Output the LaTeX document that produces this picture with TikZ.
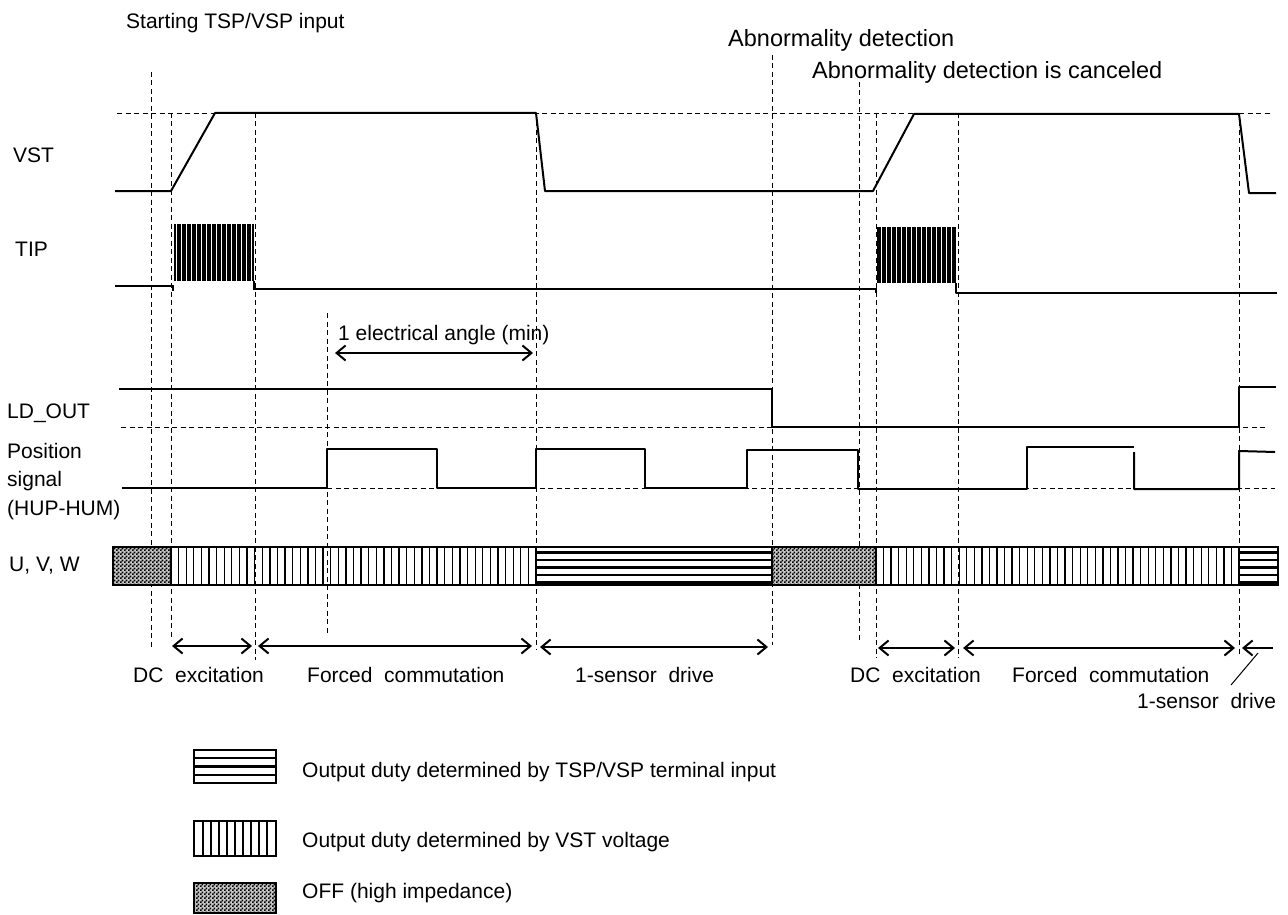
\documentclass[tikz,border=0pt]{standalone}
\usepackage{fontspec}
\setmainfont{Liberation Sans}
\usetikzlibrary{arrows.meta,patterns}
\pgfdeclarepatternformonly{checker}{\pgfpointorigin}{\pgfpoint{4pt}{4pt}}{\pgfpoint{4pt}{4pt}}{%
  \pgfpathrectangle{\pgfpointorigin}{\pgfpoint{2pt}{2pt}}%
  \pgfpathrectangle{\pgfpoint{2pt}{2pt}}{\pgfpoint{2pt}{2pt}}%
  \pgfusepath{fill}}
\begin{document}
\begin{tikzpicture}[x=1pt,y=-1pt,
  wave/.style={line width=2pt,line join=round},
  thinwave/.style={line width=1.6pt},
  gridline/.style={line width=0.9pt,dash pattern=on 5pt off 3.5pt},
  dur/.style={line width=2pt,{Straight Barb[length=9pt,width=15pt,line width=2pt]}-{Straight Barb[length=9pt,width=15pt,line width=2pt]}},
  lefttip/.style={line width=2pt,{Straight Barb[length=9pt,width=15pt,line width=2pt]}-},
  lbl/.style={font=\fontsize{21}{25}\selectfont,inner sep=0pt,anchor=base west},
  big/.style={font=\fontsize{23.5}{28}\selectfont,inner sep=0pt,anchor=base west},
  vhatch/.style={line width=1.3pt},
  hhatch/.style={line width=2.3pt},
  frame/.style={line width=2.5pt},
  burst/.style={line width=1pt},
  off/.style={fill=gray!45,postaction={pattern=checker,pattern color=black}}]
\useasboundingbox (0,0) rectangle (1288,915);

% ---------- dashed reference lines ----------
\foreach \x/\a/\b in {151/72/647, 171/113/640, 255/113/660, 327/313/633, 536/113/650,
                      772/55/645, 859/82/642, 876/113/658, 958/113/658, 1239/113/655}
  \draw[gridline] (\x,\a) -- (\x,\b);
\draw[gridline] (117,113) -- (1270,113);
\draw[gridline] (121,427) -- (1265,427);
\draw[gridline] (327,488) -- (1275,488);

% ---------- titles ----------
\node[lbl] (start) at (126,29) {Starting TSP/VSP input};
\node[big] (abn) at (728,47) {Abnormality detection};
\node[big] (abnc) at (812,79) {Abnormality detection is canceled};

% ---------- signal names ----------
\node[lbl] (vst) at (13,163) {VST};
\node[lbl] (tip) at (15,256) {TIP};
\node[lbl] (ldout) at (7,418) {LD\_OUT};
\node[lbl] (pos1) at (7,458) {Position};
\node[lbl] (pos2) at (7,486) {signal};
\node[lbl] (pos3) at (7,515) {(HUP-HUM)};
\node[lbl] (uvw) at (9,571) {U, V, W};

% ---------- VST ----------
\draw[wave] (115,191) -- (171,191) -- (215,113) -- (536,113) -- (545,191) -- (873,191)
  -- (914,114) -- (1239,114) -- (1249,193) -- (1276,193);

% ---------- TIP ----------
\draw[thinwave] (115,286) -- (173,286) -- (173,291);
\foreach \i in {0,...,63} \draw[burst] ({174.5+\i*1.25},224) -- ({174.5+\i*1.25},281);
\draw[thinwave] (254,281) -- (254,289) -- (876,289) -- (876,293);
\foreach \i in {0,...,63} \draw[burst] ({877+\i*1.25},227) -- ({877+\i*1.25},283);
\draw[wave] (956,283) -- (956,293) -- (1277,293);

% ---------- electrical angle ----------
\node[lbl] (eang) at (338,340) {1 electrical angle (min)};
\draw[dur] (335,353) -- (533,353);

% ---------- LD_OUT ----------
\draw[wave] (119,389) -- (772,389) -- (772,427) -- (1239,427) -- (1239,387) -- (1276,387);

% ---------- Position signal ----------
\draw[wave] (122,488) -- (327,488) -- (327,449) -- (437,449) -- (437,488) -- (536,488)
  -- (536,449) -- (645,449) -- (645,488) -- (747,488) -- (747,450) -- (858,450)
  -- (858,489) -- (1027,489) -- (1027,447) -- (1134,447);
\draw[wave] (1134,452) -- (1134,489) -- (1239,489) -- (1239,451) -- (1275,452);

% ---------- U, V, W bar ----------
\path[off] (113,547) rectangle (171,585);
\path[off] (772,547) rectangle (876,585);
\foreach \i in {1,...,47} \draw[vhatch] ({171+\i*7.604},547) -- ++(0,38);
\foreach \i in {1,...,47} \draw[vhatch] ({876+\i*7.5625},547) -- ++(0,38);
\foreach \y in {552.5,560,567.5,575,582.5} {
  \draw[hhatch] (536,\y) -- (772,\y);
  \draw[hhatch] (1239,\y) -- (1278,\y);
}
\draw[frame] (113,547) rectangle (1278,585);
\foreach \x in {171,536,772,876,1239} \draw[frame] (\x,547) -- (\x,585);

% ---------- phases ----------
\draw[dur] (172,646) -- (252,646);
\draw[dur] (258,646) -- (532,646);
\draw[dur] (540,647) -- (768,647);
\draw[dur] (878,648) -- (955,648);
\draw[dur] (963,648) -- (1235,648);
\draw[lefttip] (1242,648) -- (1273,648);
\draw[line width=1pt] (1258,653) -- (1231,685);

\node[lbl] (dc1) at (133,682) {DC\ \ excitation};
\node[lbl] (fc1) at (307,682) {Forced\ \ commutation};
\node[lbl] (sd1) at (575,682) {1-sensor\ \ drive};
\node[lbl] (dc2) at (850,682) {DC\ \ excitation};
\node[lbl] (fc2) at (1012,682) {Forced\ \ commutation};
\node[lbl] (sd2) at (1137,708) {1-sensor\ \ drive};

% ---------- legend ----------
\foreach \y in {758,766.5,775} \draw[hhatch] (194,\y) -- (276,\y);
\draw[frame] (194,750) rectangle (276,783);
\foreach \i in {0,...,8} \draw[vhatch] ({203+\i*8},821) -- ({203+\i*8},856);
\draw[frame] (194,821) rectangle (276,856);
\path[off] (194,883) rectangle (276,913);
\draw[frame] (194,883) rectangle (276,913);

\node[lbl] (lg1) at (302,777) {Output duty determined by TSP/VSP terminal input};
\node[lbl] (lg2) at (302,847) {Output duty determined by VST voltage};
\node[lbl] (lg3) at (302,898) {OFF (high impedance)};
\end{tikzpicture}
\end{document}
